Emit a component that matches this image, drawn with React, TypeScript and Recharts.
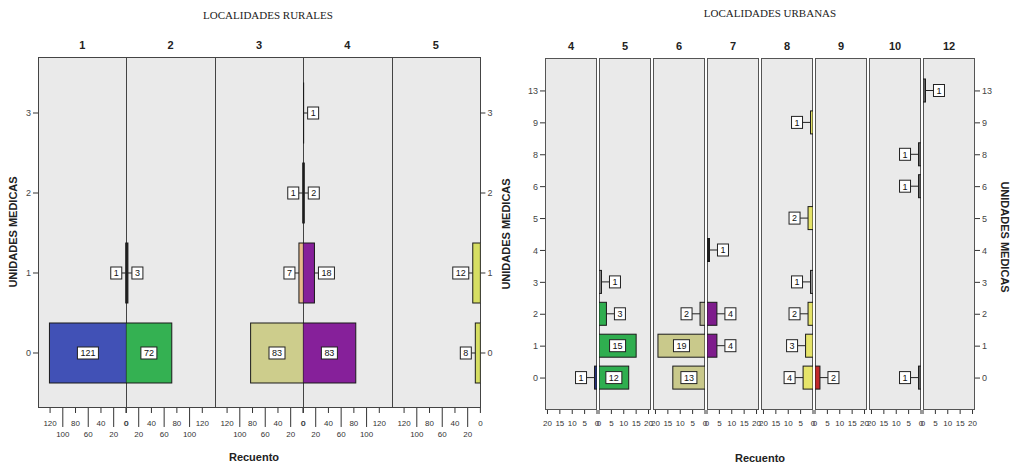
import { BarChart, Bar, XAxis, YAxis } from 'recharts'

// rows (unidades medicas) and columns for each panel
const ruralRows = ['0', '1', '2', '3']
const ruralColumns = ['1', '2', '3', '4', '5']
const ruralCol1 = [121, 1, null, null]
const ruralCol2 = [72, 3, null, null]
const ruralCol3 = [83, 7, 1, null]
const ruralCol4 = [83, 18, 2, 1]
const ruralCol5 = [8, 12, null, null]
const ruralTicks = [0, 20, 40, 60, 80, 100, 120]

const urbanRows = ['0', '1', '2', '3', '4', '5', '6', '8', '9', '13']
const urbanColumns = ['4', '5', '6', '7', '8', '9', '10', '12']
const urbanCol4 = [1, null, null, null, null, null, null, null, null, null]
const urbanCol5 = [12, 15, 3, 1, null, null, null, null, null, null]
const urbanCol6 = [13, 19, 2, null, null, null, null, null, null, null]
const urbanCol7 = [null, 4, 4, null, 1, null, null, null, null, null]
const urbanCol8 = [4, 3, 2, 1, null, 2, null, null, 1, null]
const urbanCol9 = [2, null, null, null, null, null, null, null, null, null]
const urbanCol10 = [1, null, null, null, null, null, 1, 1, null, null]
const urbanCol12 = [null, null, null, null, null, null, null, null, null, 1]
const urbanTicks = [0, 5, 10, 15, 20]

const SANS = "'Liberation Sans', Arial, sans-serif"
const SERIF = "'Liberation Serif', 'Times New Roman', serif"
const DARK = '#222'

type Side = 'left' | 'right'

const ruralFills = ['#4151b6', '#34b152', '#cdcd8c', '#86209a', '#d6de62']
const ruralOverrides: Record<string, string> = { '0-1': DARK, '1-1': DARK, '2-1': '#e9b98c', '2-2': DARK, '3-2': DARK, '3-3': DARK }
const urbanFills = ['#26357f', '#2fae4f', '#c9c98b', '#7e1c8c', '#e6e46a', '#c22a2a', '#666', '#666']
const urbanOverrides: Record<string, string> = { '1-3': '#888', '2-2': '#b8b89a', '3-4': DARK, '4-3': '#999' }

function RuralTick({ x, y, payload }: any) {
  const v = payload.value
  const long = (v / 20) % 2 === 1
  return (
    <g>
      <line x1={x} x2={x} y1={y} y2={y + (long ? 19 : 5)} stroke="#333" />
      <text x={x} y={y + (long ? 29 : 18)} textAnchor="middle" fontSize={8} fontFamily={SANS} fill="#333">
        {v}
      </text>
    </g>
  )
}

function UrbanTick({ x, y, payload }: any) {
  return (
    <g>
      <line x1={x} x2={x} y1={y} y2={y + 4} stroke="#333" />
      <text x={x} y={y + 16} textAnchor="middle" fontSize={8} fontFamily={SANS} fill="#333">
        {payload.value}
      </text>
    </g>
  )
}

interface ColumnProps {
  rows: string[]
  values: (number | null)[]
  fill: string
  overrides: Record<string, string>
  colIndex: number
  side: Side
  max: number
  left: number
  top: number
  width: number
  plotHeight: number
  barSize: number
  pad: { top: number; bottom: number }
  ticks: number[]
  tick: any
  axis?: Side
  gap: number
}

function PyramidColumn(p: ColumnProps) {
  const axisW = 30
  const m = 8
  const chartW = p.width + (p.axis ? axisW : 0) + 2 * m
  const chartLeft = p.left - (p.axis === 'left' ? axisW : 0) - m
  const data = p.rows.map((row, i) => ({ row, value: p.values[i] }))

  const renderBar = (s: any) => {
    const v = s.payload?.value
    if (v == null) return <g />
    const rowIdx = p.rows.indexOf(s.payload.row)
    const color = p.overrides[`${p.colIndex}-${rowIdx}`] ?? p.fill
    const x0 = Math.min(s.x, s.x + s.width)
    const w = Math.abs(s.width)
    const y0 = Math.min(s.y, s.y + s.height)
    const h = Math.abs(s.height)
    const label = String(v)
    const bw = 6 + 5 * label.length
    const bh = 12
    const cy = y0 + h / 2
    let bx: number
    let conn: [number, number] | null = null
    if (w >= bw + 8) {
      bx = x0 + w / 2 - bw / 2
    } else if (p.side === 'right') {
      bx = x0 + w + p.gap
      conn = [x0 + w, bx]
    } else {
      bx = x0 - p.gap - bw
      conn = [bx + bw, x0]
    }
    return (
      <g>
        <rect x={x0} y={y0} width={Math.max(w, 0.5)} height={h} fill={color} stroke="#1a1a1a" strokeWidth={1} />
        {conn && <line x1={conn[0]} x2={conn[1]} y1={cy} y2={cy} stroke={DARK} />}
        <rect x={bx} y={cy - bh / 2} width={bw} height={bh} fill="#fff" stroke={DARK} />
        <text x={bx + bw / 2} y={cy + 3.3} textAnchor="middle" fontSize={9} fontFamily={SANS} fill="#111">
          {label}
        </text>
      </g>
    )
  }

  return (
    <div style={{ position: 'absolute', left: chartLeft, top: p.top }}>
      <BarChart
        width={chartW}
        height={p.plotHeight + 40}
        data={data}
        layout="vertical"
        margin={{ top: 0, right: m, bottom: 0, left: m }}
        barCategoryGap={0}
      >
        <XAxis
          type="number"
          domain={[0, p.max]}
          allowDataOverflow
          reversed={p.side === 'left'}
          ticks={p.ticks}
          interval={0}
          tickLine={false}
          axisLine={false}
          tickSize={0}
          tickMargin={0}
          tick={p.tick}
          height={40}
        />
        <YAxis
          type="category"
          dataKey="row"
          reversed
          hide={!p.axis}
          orientation={p.axis ?? 'left'}
          width={axisW}
          axisLine={false}
          tickSize={5}
          tickLine={{ stroke: '#333' }}
          tick={{ fontSize: 9, fill: '#444', fontFamily: SANS }}
          padding={p.pad}
          interval={0}
        />
        <Bar dataKey="value" barSize={p.barSize} isAnimationActive={false} shape={renderBar} />
      </BarChart>
    </div>
  )
}

const RX0 = 38
const RW = 88.4
const RTOP = 57
const RH = 351
const UX0 = 545
const UW = 54
const UTOP = 58
const UH = 352

const ruralValues = [ruralCol1, ruralCol2, ruralCol3, ruralCol4, ruralCol5]
const ruralSides: Side[] = ['left', 'right', 'left', 'right', 'left']
const urbanValues = [urbanCol4, urbanCol5, urbanCol6, urbanCol7, urbanCol8, urbanCol9, urbanCol10, urbanCol12]
const urbanSides: Side[] = ['left', 'right', 'left', 'right', 'left', 'right', 'left', 'right']

export default function App() {
  return (
    <div style={{ position: 'absolute', left: 0, top: 0, width: 1013, height: 466, background: '#fff', overflow: 'hidden' }}>
      {ruralColumns.map((c, i) => (
        <div
          key={'rf' + c}
          style={{
            position: 'absolute',
            left: RX0 + i * RW,
            top: RTOP,
            width: RW + 1,
            height: RH,
            boxSizing: 'border-box',
            border: '1px solid #444',
            background: '#eaeaea',
          }}
        />
      ))}
      {urbanColumns.map((c, i) => (
        <div
          key={'uf' + c}
          style={{
            position: 'absolute',
            left: UX0 + i * UW,
            top: UTOP,
            width: UW - 2,
            height: UH,
            boxSizing: 'border-box',
            border: '1px solid #555',
            background: '#eaeaea',
          }}
        />
      ))}

      {ruralColumns.map((c, i) => (
        <PyramidColumn
          key={'rc' + c}
          rows={ruralRows}
          values={ruralValues[i]}
          fill={ruralFills[i]}
          overrides={ruralOverrides}
          colIndex={i}
          side={ruralSides[i]}
          max={139}
          left={RX0 + i * RW}
          top={RTOP}
          width={RW}
          plotHeight={RH}
          barSize={60}
          pad={{ top: 16, bottom: 15 }}
          ticks={ruralTicks}
          tick={<RuralTick />}
          axis={i === 0 ? 'left' : i === ruralColumns.length - 1 ? 'right' : undefined}
          gap={4}
        />
      ))}
      {urbanColumns.map((c, i) => (
        <PyramidColumn
          key={'uc' + c}
          rows={urbanRows}
          values={urbanValues[i]}
          fill={urbanFills[i]}
          overrides={urbanOverrides}
          colIndex={i}
          side={urbanSides[i]}
          max={21}
          left={UX0 + i * UW}
          top={UTOP}
          width={UW - 2}
          plotHeight={UH}
          barSize={23}
          pad={{ top: 17, bottom: 16 }}
          ticks={urbanTicks}
          tick={<UrbanTick />}
          axis={i === 0 ? 'left' : i === urbanColumns.length - 1 ? 'right' : undefined}
          gap={8}
        />
      ))}

      <svg width={1013} height={466} style={{ position: 'absolute', left: 0, top: 0, pointerEvents: 'none' }}>
        <text x={268} y={19} textAnchor="middle" fontSize={11} fontFamily={SERIF} fill="#222">
          LOCALIDADES RURALES
        </text>
        <text x={770} y={17} textAnchor="middle" fontSize={11} fontFamily={SERIF} fill="#222">
          LOCALIDADES URBANAS
        </text>
        {ruralColumns.map((c, i) => (
          <text key={'rh' + c} x={RX0 + (i + 0.5) * RW} y={49} textAnchor="middle" fontSize={11} fontWeight="bold" fontFamily={SANS} fill="#222">
            {c}
          </text>
        ))}
        {urbanColumns.map((c, i) => (
          <text key={'uh' + c} x={UX0 + i * UW + (UW - 2) / 2} y={50} textAnchor="middle" fontSize={11} fontWeight="bold" fontFamily={SANS} fill="#222">
            {c}
          </text>
        ))}
        <text x={254} y={461} textAnchor="middle" fontSize={11} fontWeight="bold" fontFamily={SANS} fill="#222">
          Recuento
        </text>
        <text x={760} y={462} textAnchor="middle" fontSize={11} fontWeight="bold" fontFamily={SANS} fill="#222">
          Recuento
        </text>
        <text transform="translate(17,232) rotate(-90)" textAnchor="middle" fontSize={11} fontWeight="bold" fontFamily={SANS} fill="#222">
          UNIDADES MEDICAS
        </text>
        <text transform="translate(510,234) rotate(-90)" textAnchor="middle" fontSize={11} fontWeight="bold" fontFamily={SANS} fill="#222">
          UNIDADES MEDICAS
        </text>
        <text transform="translate(1001,237) rotate(90)" textAnchor="middle" fontSize={11} fontWeight="bold" fontFamily={SANS} fill="#222">
          UNIDADES MEDICAS
        </text>
      </svg>
    </div>
  )
}
